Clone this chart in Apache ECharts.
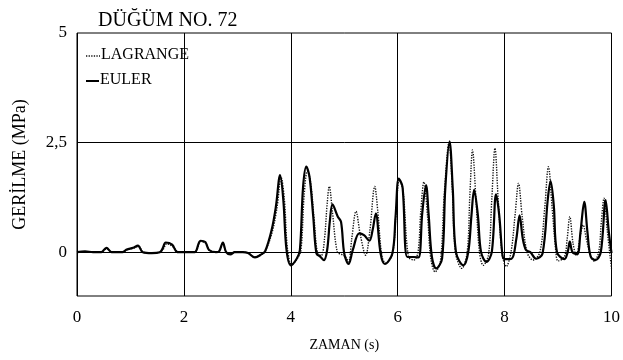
<!DOCTYPE html>
<html>
<head>
<meta charset="utf-8">
<script src="https://cdn.jsdelivr.net/npm/echarts@6/dist/echarts.min.js"></script>
<style>
html,body{margin:0;padding:0;background:#fff;}
#chart{width:623px;height:360px;}
</style>
</head>
<body>
<div id="chart"></div>
<script>
const chartTitle = 'DÜĞÜM NO. 72';
const xName = 'ZAMAN (s)';
const yName = 'GERİLME (MPa)';
const seriesNames = ['LAGRANGE', 'EULER'];
const xTicks = [0, 2, 4, 6, 8, 10];
const yTickLabels = {'0': '0', '2.5': '2,5', '5': '5'};
const yGridValues = [0, 2.5];

const eulerT = [0,0.15,0.3,0.45,0.55,0.65,0.85,0.93,1.05,1.14,1.23,1.4,1.55,1.6,1.66,1.78,1.88,2.0,2.2,2.31,2.40,2.47,2.6,2.66,2.73,2.79,2.87,2.95,3.1,3.2,3.33,3.45,3.52,3.64,3.72,3.80,3.86,3.92,4.0,4.11,4.17,4.23,4.29,4.35,4.42,4.48,4.55,4.62,4.68,4.73,4.78,4.88,4.94,5.0,5.08,5.16,5.28,5.37,5.47,5.53,5.59,5.68,5.76,5.90,5.96,6.02,6.09,6.18,6.3,6.39,6.46,6.53,6.58,6.64,6.72,6.83,6.89,6.97,7.03,7.09,7.23,7.32,7.38,7.43,7.5,7.56,7.66,7.76,7.84,7.90,7.96,8.0,8.13,8.22,8.28,8.34,8.40,8.48,8.59,8.71,8.81,8.86,8.92,8.98,9.12,9.18,9.22,9.27,9.36,9.42,9.49,9.55,9.61,9.70,9.80,9.89,9.95,10.0];
const eulerY = [0,0.02,0,0,0.1,0,0,0.06,0.1,0.15,0,-0.02,0,0.08,0.22,0.17,0,0,0,0.26,0.23,0.05,0,0.02,0.22,0,-0.05,0,0,-0.02,-0.12,-0.05,0.02,0.5,1.03,1.76,1.19,0.05,-0.3,-0.15,0.05,1.49,1.95,1.72,0.81,-0.03,-0.1,-0.18,0.05,0.7,1.09,0.81,0.69,-0.03,-0.27,0.05,0.43,0.39,0.26,0.5,0.88,-0.03,-0.27,-0.03,0.81,1.68,1.49,-0.11,-0.11,-0.12,0.9,1.53,0.84,-0.11,-0.37,-0.15,1.45,2.53,1.45,0,-0.3,0,0.84,1.42,0.84,0,-0.22,0,1.32,0.84,-0.07,-0.16,-0.15,0.31,0.84,0.31,0.05,0,-0.15,-0.03,1.23,1.62,1.07,0,-0.16,0,0.24,0,-0.05,0.46,1.15,0.46,-0.1,-0.18,0,1.19,0.46,-0.02];

const lagT = [0,0.15,0.3,0.45,0.56,0.66,0.85,0.93,1.05,1.15,1.24,1.4,1.55,1.61,1.68,1.8,1.9,2.0,2.2,2.32,2.41,2.48,2.6,2.66,2.73,2.79,2.87,2.95,3.1,3.2,3.33,3.45,3.52,3.65,3.74,3.82,3.88,3.94,4.02,4.12,4.19,4.25,4.31,4.37,4.44,4.5,4.57,4.63,4.68,4.72,4.78,4.87,4.95,5.02,5.08,5.14,5.22,5.3,5.40,5.48,5.57,5.63,5.7,5.77,5.9,5.97,6.03,6.1,6.2,6.3,6.38,6.43,6.49,6.56,6.62,6.70,6.8,6.87,6.96,7.02,7.08,7.2,7.3,7.35,7.4,7.46,7.53,7.6,7.7,7.76,7.82,7.88,7.95,8.03,8.12,8.2,8.26,8.33,8.42,8.53,8.66,8.75,8.82,8.89,8.96,9.0,9.12,9.17,9.22,9.28,9.34,9.42,9.47,9.53,9.6,9.67,9.76,9.81,9.86,9.92,10.0];
const lagY = [0,0.01,0,0,0.08,0,0,0.05,0.09,0.13,0,-0.02,0,0.06,0.19,0.12,0,0,0,0.24,0.2,0.04,0,0.02,0.2,0,-0.04,0,0,-0.02,-0.11,-0.05,0.02,0.45,1.0,1.7,1.2,0.05,-0.28,-0.15,0.05,1.3,1.85,1.6,0.7,-0.02,-0.08,0.3,1.1,1.5,0.9,0,-0.05,-0.1,-0.22,0.3,0.93,0.4,-0.07,0.5,1.5,0.9,-0.05,-0.25,-0.05,0.9,1.65,1.4,-0.1,-0.18,0,0.9,1.6,0.8,-0.15,-0.45,-0.2,1.3,2.5,1.5,0,-0.37,0,1.3,2.33,1.3,0,-0.3,-0.05,1.2,2.37,1.2,0,-0.33,0,0.9,1.57,0.8,0,-0.18,0,1.0,1.95,1.0,0,-0.2,-0.1,0.3,0.81,0.2,-0.07,0.4,0.62,0.3,-0.05,-0.2,0,0.7,1.23,0.5,-0.37];

const eulerData = eulerT.map((t, i) => [t, eulerY[i]]);
const lagData = lagT.map((t, i) => [t, lagY[i]]);

const serif = '"Liberation Serif", "Times New Roman", serif';
const lagStyle = {color: '#111', width: 1.4, type: [1.3, 1.3]};
const eulerStyle = {color: '#000', width: 2.2};

const chart = echarts.init(document.getElementById('chart'));
chart.setOption({
  animation: false,
  backgroundColor: '#ffffff',
  title: {
    text: chartTitle,
    left: 93, top: 6,
    textStyle: {fontFamily: serif, fontSize: 20, fontWeight: 'normal', color: '#000'}
  },
  graphic: [
    {type: 'line', shape: {x1: 86, y1: 56, x2: 100, y2: 56}, style: {stroke: lagStyle.color, lineWidth: lagStyle.width, lineDash: lagStyle.type}},
    {type: 'text', left: 101, top: 47, style: {text: seriesNames[0], font: '16px ' + serif, fill: '#000'}},
    {type: 'line', shape: {x1: 86, y1: 81, x2: 99, y2: 81}, style: {stroke: '#000', lineWidth: 2}},
    {type: 'text', left: 100, top: 72, style: {text: seriesNames[1], font: '16px ' + serif, fill: '#000'}}
  ],
  grid: {
    left: 77, top: 33, right: 7, bottom: 64,
    show: true, borderColor: '#000', borderWidth: 1
  },
  xAxis: {
    type: 'value', min: xTicks[0], max: xTicks[xTicks.length-1], interval: 2,
    name: xName, nameLocation: 'middle', nameGap: 42,
    nameTextStyle: {fontFamily: serif, fontSize: 14, color: '#000'},
    axisLine: {show: false}, axisTick: {show: false},
    axisLabel: {fontFamily: serif, fontSize: 17, color: '#000', margin: 13},
    splitLine: {show: true, lineStyle: {color: '#000', width: 1}}
  },
  yAxis: {
    type: 'value', min: -1, max: 5, interval: 0.5,
    name: yName, nameLocation: 'middle', nameGap: 48,
    nameTextStyle: {fontFamily: serif, fontSize: 18, color: '#000'},
    axisLine: {show: false}, axisTick: {show: false},
    axisLabel: {
      fontFamily: serif, fontSize: 17, color: '#000', margin: 10,
      formatter: v => { const k = String(Math.round(v*10)/10); return yTickLabels[k] !== undefined ? yTickLabels[k] : ''; }
    },
    splitLine: {show: false}
  },
  series: [
    {
      name: seriesNames[0], type: 'line', data: lagData,
      symbol: 'none', smooth: 0.35,
      lineStyle: lagStyle,
      z: 3
    },
    {
      name: seriesNames[1], type: 'line', data: eulerData,
      symbol: 'none', smooth: 0.35,
      lineStyle: eulerStyle,
      markLine: {
        silent: true, symbol: 'none', label: {show: false},
        lineStyle: {color: '#000', width: 1, type: 'solid'},
        data: yGridValues.map(v => ({yAxis: v}))
      },
      z: 4
    }
  ]
});
</script>
</body>
</html>
